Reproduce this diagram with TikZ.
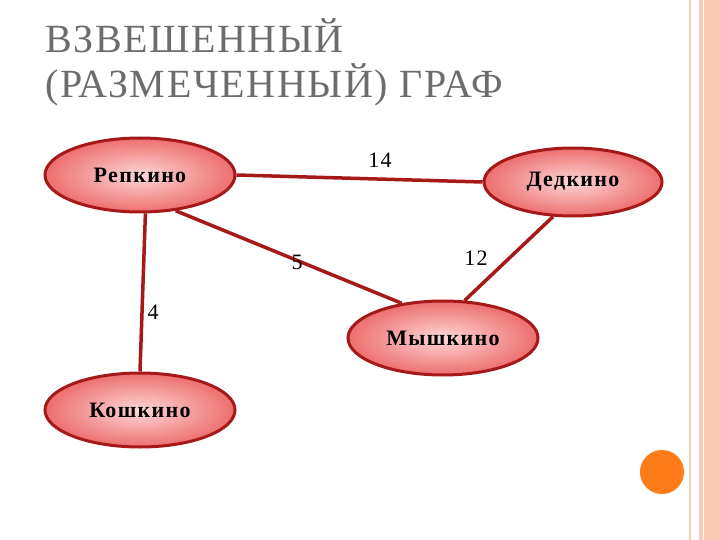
\documentclass[tikz,border=0pt]{standalone}
\usepackage{fontspec}
\setmainfont{Liberation Serif}
\usetikzlibrary{shapes.geometric}
\begin{document}
\begin{tikzpicture}[x=1pt,y=-1pt,
  town/.style={ellipse,draw=edgec,line width=3pt,inner color=pinkin,outer color=pinkout,font=\bfseries\addfontfeature{LetterSpace=6}\fontsize{22}{24}\selectfont,text=black},
  edge/.style={draw=edgec,line width=3.5pt},
  wlab/.style={font=\addfontfeature{LetterSpace=6}\fontsize{22}{24}\selectfont,text=black}]
\definecolor{edgec}{RGB}{165,25,25}
\definecolor{pinkin}{RGB}{252,215,215}
\definecolor{pinkout}{RGB}{238,110,110}
\definecolor{band}{RGB}{250,200,180}
\useasboundingbox (0,0) rectangle (720,540);
\fill[white] (0,0) rectangle (720,540);
\fill[band] (699,0) rectangle (720,540);
\draw[white,line width=1.2pt] (703.5,0) -- (703.5,540);
\draw[band,line width=1.5pt] (690,0) -- (690,540);
\fill[orange!85!red!90] (662,472) circle (22);
\node[anchor=north west,inner sep=0pt,text=gray!85!black,font=\addfontfeature{LetterSpace=4}\fontsize{40}{45}\selectfont,align=left] (title) at (45,18) {ВЗВЕШЕННЫЙ\\(РАЗМЕЧЕННЫЙ) ГРАФ};
\node[town,minimum width=190,minimum height=74] (rep) at (140,175) {Репкино};
\node[town,minimum width=178,minimum height=68] (ded) at (573,182) {Дедкино};
\node[town,minimum width=190,minimum height=74] (mysh) at (443,338) {Мышкино};
\node[town,minimum width=190,minimum height=74] (kosh) at (140,410) {Кошкино};
\path[edge] (rep.east) -- (ded.west);
\path[edge] (rep.-82) -- (kosh.north);
\path[edge] (rep.-45) -- (mysh.140);
\path[edge] (ded.-120) -- (mysh.60);
\node[wlab] (l14) at (380,160) {14};
\node[wlab] (l4) at (153,312) {4};
\node[wlab] (l5) at (297,262) {5};
\node[wlab] (l12) at (476,258) {12};
\end{tikzpicture}
\end{document}
